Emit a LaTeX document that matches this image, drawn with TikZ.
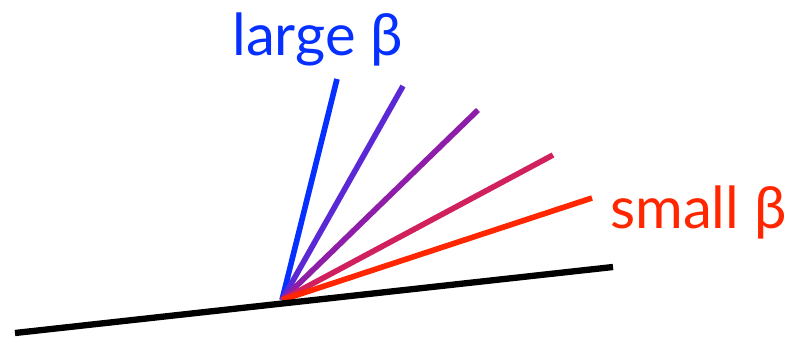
\documentclass[tikz,border=0pt]{standalone}
\usepackage{fontspec}
\setmainfont{Lato}
\usepackage{xcolor}
\usetikzlibrary{positioning}

\definecolor{betablue}{HTML}{0530FF}
\definecolor{betaviolet}{HTML}{5A28D4}
\definecolor{betapurple}{HTML}{8E1EA8}
\definecolor{betapink}{HTML}{D0205E}
\definecolor{betared}{HTML}{FF2600}

\begin{document}
\begin{tikzpicture}[
    x=0.02cm, y=-0.02cm,
    surface/.style={line width=3.6pt, draw=black},
    ray/.style={line width=3.2pt},
    label/.style={font=\fontsize{33}{36}\selectfont, inner sep=0pt}
]
\useasboundingbox (0,0) rectangle (791,338);

% Surface and contact point
\coordinate (left) at (15,333);
\coordinate (right) at (613,267);
\coordinate (o) at (282,300);

% Ray ends
\coordinate (r1) at (337,79);
\coordinate (r2) at (403,86);
\coordinate (r3) at (478,110);
\coordinate (r4) at (553,155);
\coordinate (r5) at (592,198);

% Rays
\draw[ray, draw=betablue] (o) -- (r1);
\draw[ray, draw=betaviolet] (o) -- (r2);
\draw[ray, draw=betapurple] (o) -- (r3);
\draw[ray, draw=betapink] (o) -- (r4);
\draw[ray, draw=betared] (o) -- (r5);

\draw[surface] (left) -- (right);

% Labels
\node[label, text=betablue, anchor=base west] (large) at (232,55) {large β};
\node[label, text=betared, anchor=base west] (small) at (610,228) {small β};

\end{tikzpicture}
\end{document}
